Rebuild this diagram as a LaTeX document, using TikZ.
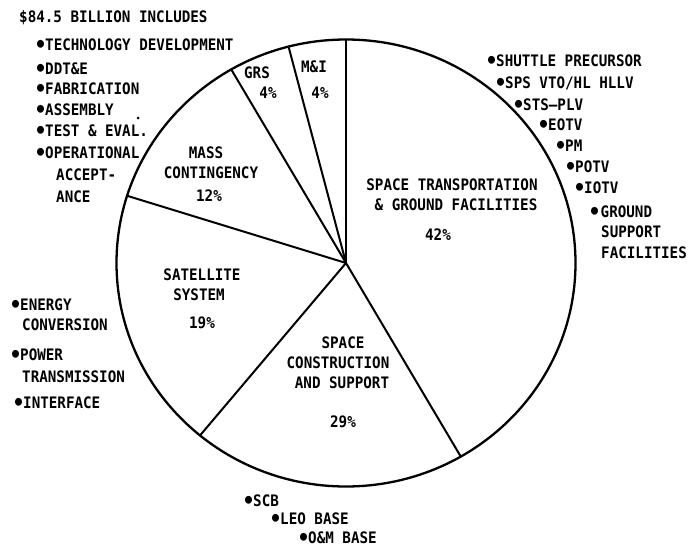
\documentclass[tikz,border=0pt]{standalone}
\usepackage{fontspec}
\usepackage{graphicx}
\usetikzlibrary{calc}
\newfontfamily\labfont[FakeStretch=0.9]{DejaVu Sans Mono}
\newcommand\bul{\makebox[9pt][c]{\raisebox{-1.8pt}{\scalebox{1.4}{•}}}}
\begin{document}
\begin{tikzpicture}[x=1pt,y=-1pt,
  lab/.style={font=\labfont\bfseries\fontsize{15.8}{18}\selectfont, inner sep=0pt, text height=11.5pt, text depth=0pt},
  lw/.style={lab, anchor=west},
  rim/.style={line width=2.3pt},
  radial/.style={line width=2pt}]
\useasboundingbox (0,0) rectangle (690,551);
% pie
\coordinate (c) at (346,263);
\draw[rim] (c) ellipse [x radius=229.5, y radius=223.5];
\coordinate (r1) at ($(c)+(-90:229.5 and 223.5)$);
\coordinate (r2) at ($(c)+(-104.5:229.5 and 223.5)$);
\coordinate (r3) at ($(c)+(-120:229.5 and 223.5)$);
\coordinate (r4) at ($(c)+(-162.5:229.5 and 223.5)$);
\coordinate (r5) at ($(c)+(-230.5:229.5 and 223.5)$);
\coordinate (r6) at ($(c)+(-300:229.5 and 223.5)$);
\foreach \r in {r1,r2,r3,r4,r5,r6} \draw[radial, line cap=round] (c) -- (\r);
% inside labels
\node[lab] (grs) at (257,73) {GRS};
\node[lab] (grsp) at (268,93) {4\%};
\node[lab] (mi) at (314,67) {M\&I};
\node[lab] (mip) at (320,93) {4\%};
\node[lab] (mass1) at (206,153) {MASS};
\node[lab] (mass2) at (211,173) {CONTINGENCY};
\node[lab] (massp) at (209,196) {12\%};
\node[lab] (sat1) at (202,275) {SATELLITE};
\node[lab] (sat2) at (199,295) {SYSTEM};
\node[lab] (satp) at (202,323) {19\%};
\node[lab] (sc1) at (343,343) {SPACE};
\node[lab] (sc2) at (338,363) {CONSTRUCTION};
\node[lab] (sc3) at (342,383) {AND SUPPORT};
\node[lab] (scp) at (343,422) {29\%};
\node[lab] (st1) at (452,185) {SPACE TRANSPORTATION};
\node[lab] (st2) at (456,205) {\& GROUND FACILITIES};
\node[lab] (stp) at (438,235) {42\%};
% top-left list
\node[lw] (tl0) at (19,17) {\$84.5 BILLION INCLUDES};
\node[lw] (tl1) at (36,45) {\bul TECHNOLOGY DEVELOPMENT};
\node[lw] (tl2) at (36,69) {\bul DDT\&E};
\node[lw] (tl3) at (36,89) {\bul FABRICATION};
\node[lw] (tl4) at (36,110) {\bul ASSEMBLY};
\node[lw] (tl5) at (36,131) {\bul TEST \& EVAL.};
\node[lw] (tl6) at (36,153) {\bul OPERATIONAL};
\node[lw] (tl7) at (56,175) {ACCEPT-};
\node[lw] (tl8) at (56,197) {ANCE};
\fill (138,118) circle[radius=1.5] coordinate (speck);
% right list
\node[lw] (rl1) at (487,61) {\bul SHUTTLE PRECURSOR};
\node[lw] (rl2) at (496,83) {\bul SPS VTO/HL HLLV};
\node[lw] (rl3) at (514,105) {\bul STS—PLV};
\node[lw] (rl4) at (539,125) {\bul EOTV};
\node[lw] (rl5) at (556,146) {\bul PM};
\node[lw] (rl6) at (566,167) {\bul POTV};
\node[lw] (rl7) at (575,188) {\bul IOTV};
\node[lw] (rl8) at (590,212) {\bul\kern1.5pt GROUND};
\node[lw] (rl9) at (601,232) {SUPPORT};
\node[lw] (rl10) at (601,253) {FACILITIES};
% left list
\node[lw] (ll1) at (11,305) {\bul ENERGY};
\node[lw] (ll2) at (22,325) {CONVERSION};
\node[lw] (ll3) at (11,355) {\bul POWER};
\node[lw] (ll4) at (22,377) {TRANSMISSION};
\node[lw] (ll5) at (14,403) {\bul INTERFACE};
% bottom list
\node[lw] (bl1) at (244,501) {\bul SCB};
\node[lw] (bl2) at (271,519) {\bul LEO BASE};
\node[lw] (bl3) at (299,538) {\bul O\&M BASE};
\end{tikzpicture}
\end{document}
